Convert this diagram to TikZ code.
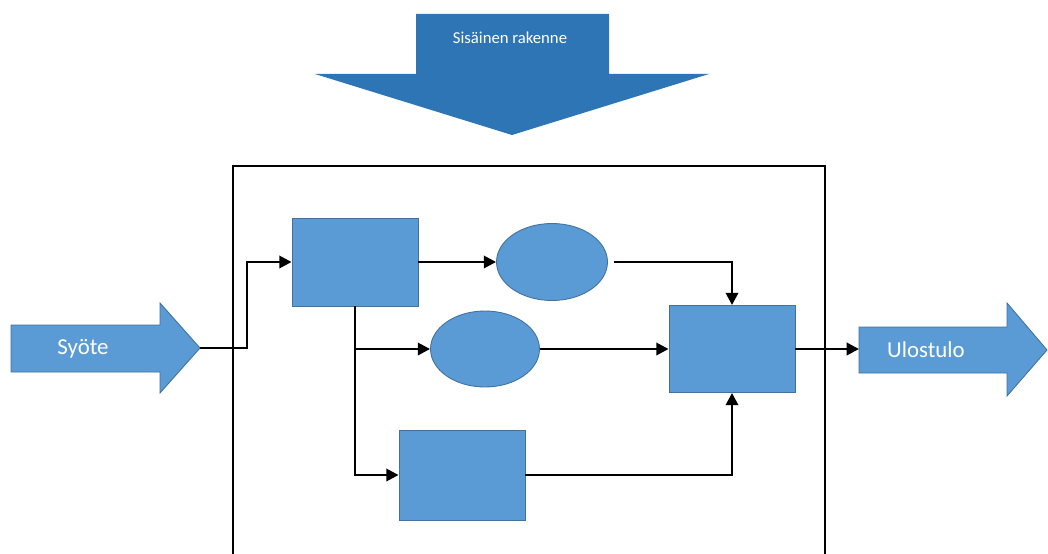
\documentclass[tikz,border=0pt]{standalone}
\usepackage{fontspec}
\setmainfont{Carlito}
\usetikzlibrary{arrows.meta,shapes.geometric}

\definecolor{boxblue}{HTML}{5B9BD5}
\definecolor{edgeblue}{HTML}{41719C}
\definecolor{darkblue}{HTML}{2E75B6}

\tikzset{
	block/.style={draw=edgeblue, fill=boxblue, line width=0.5pt, inner sep=0pt},
	flow/.style={black, line width=1.5pt, -{Triangle[length=7pt,width=7pt]}},
	label/.style={white, inner sep=0pt},
}

\begin{document}
\begin{tikzpicture}[x=0.02cm, y=-0.02cm]
	\useasboundingbox (0,0) rectangle (1048,554);

	%big arrow on top
	\fill[darkblue] (416,14) -- (609,14) -- (609,74) -- (709,74) -- (512,135) -- (315,74) -- (416,74) -- cycle;
	\node[label, font=\fontsize{9.5}{11}\selectfont] (title) at (510,38) {Sisäinen rakenne};

	%outer frame, runs off the bottom
	\draw[black, line width=1.5pt] (233,554) -- (233,166) -- (825,166) -- (825,554);

	%input and output arrows
	\draw[edgeblue, fill=boxblue, line width=0.5pt] (11,325) -- (160,325) -- (160,303) -- (200,348) -- (160,393) -- (160,372) -- (11,372) -- cycle;
	\coordinate (in) at (200,348);
	\node[label, font=\fontsize{13}{15}\selectfont] (syote) at (83,349) {Syöte};
	\draw[edgeblue, fill=boxblue, line width=0.5pt] (859,327) -- (1007,327) -- (1007,303) -- (1047,350) -- (1007,396) -- (1007,373) -- (859,373) -- cycle;
	\coordinate (out) at (859,349);
	\node[label, font=\fontsize{13}{15}\selectfont] (ulostulo) at (926,350) {Ulostulo};

	%inner blocks
	\node[block, minimum width=2.52cm, minimum height=1.76cm] (a) at (355,262) {};
	\node[block, ellipse, minimum width=2.22cm, minimum height=1.54cm] (e1) at (552,262) {};
	\node[block, ellipse, minimum width=2.18cm, minimum height=1.52cm] (e2) at (485,349) {};
	\node[block, minimum width=2.52cm, minimum height=1.74cm] (b) at (732,349) {};
	\node[block, minimum width=2.52cm, minimum height=1.8cm] (c) at (462,475) {};

	%connectors
	\draw[flow] (in) -- ++(47,0) |- (a.west);
	\draw[flow] (a.east) -- (e1.west);
	\draw[flow, shorten <=0.12cm] (e1.east) -| (b.north);
	\draw[flow] (a.south) |- (e2.west);
	\draw[flow] (a.south) |- (c.west);
	\draw[flow] (e2.east) -- (b.west);
	\draw[flow] (c.east) -| (b.south);
	\draw[flow] (b.east) -- (out);

\end{tikzpicture}
\end{document}
